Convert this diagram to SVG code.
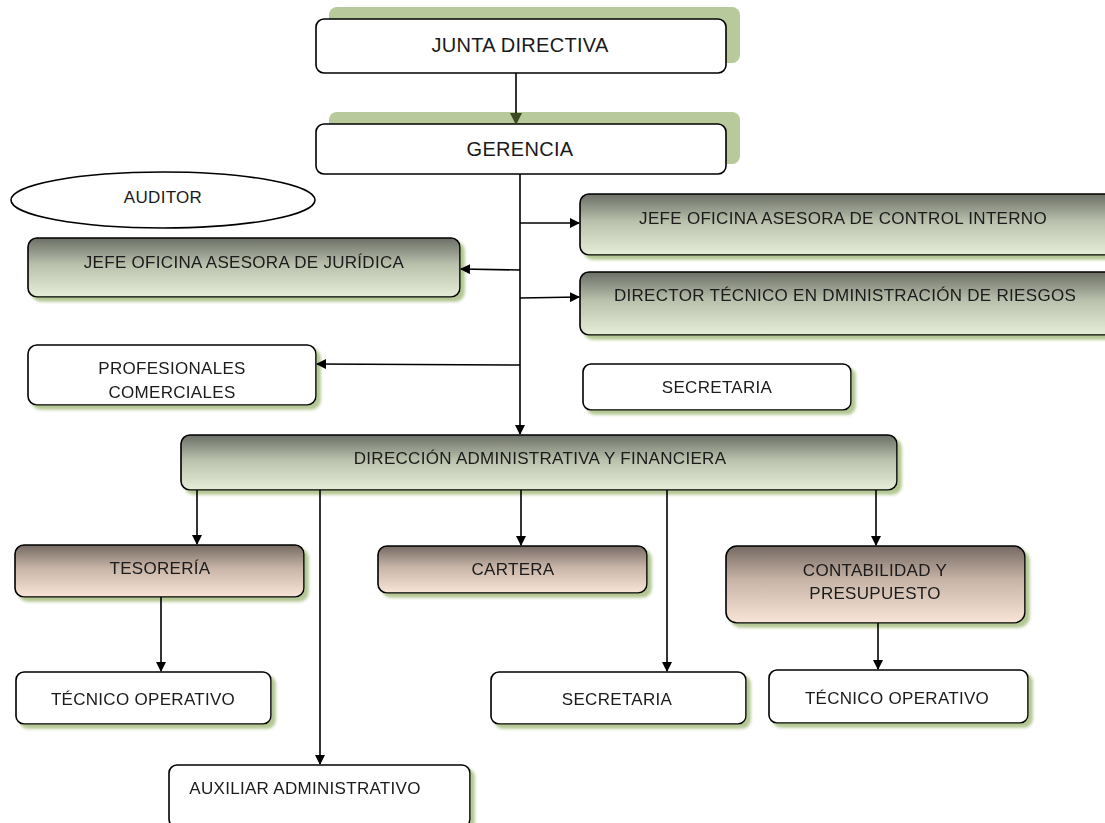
<svg xmlns="http://www.w3.org/2000/svg" width="1105" height="823" viewBox="0 0 1105 823">
<defs>
<linearGradient id="gGreen" x1="0" y1="0" x2="0" y2="1">
<stop offset="0" stop-color="#6b6f66"/>
<stop offset="0.45" stop-color="#b9c0ac"/>
<stop offset="1" stop-color="#e6eed9"/>
</linearGradient>
<linearGradient id="gBrown" x1="0" y1="0" x2="0" y2="1">
<stop offset="0" stop-color="#756a63"/>
<stop offset="0.45" stop-color="#c9b5a8"/>
<stop offset="1" stop-color="#f8e5d8"/>
</linearGradient>
<filter id="sh" x="-5%" y="-20%" width="110%" height="140%">
<feGaussianBlur in="SourceAlpha" stdDeviation="1.5" result="b"/>
<feFlood flood-color="#b3c793"/>
<feComposite in2="b" operator="in"/>
<feOffset dx="4" dy="4" result="s"/>
<feMerge><feMergeNode in="s"/><feMergeNode in="SourceGraphic"/></feMerge>
</filter>
<marker id="ah" markerWidth="10" markerHeight="10" refX="9" refY="5" orient="auto" markerUnits="userSpaceOnUse">
<path d="M0,0 L10,5 L0,10 Z" fill="#000"/>
</marker>
<marker id="ahg" markerWidth="12" markerHeight="12" refX="11" refY="6" orient="auto" markerUnits="userSpaceOnUse">
<path d="M0,0 L12,6 L0,12 Z" fill="#3d4a25"/>
</marker>
<style>
.box{stroke:#000;stroke-width:1.6;}
.w{fill:#fff;}
.gg{fill:url(#gGreen);}
.gb{fill:url(#gBrown);}
.bk{fill:#b8c99c;}
text{font-family:"Liberation Sans",Arial,sans-serif;font-size:17px;letter-spacing:0.3px;fill:#1a1a1a;text-anchor:middle;}
.big{font-size:20px;}
.c line{stroke:#000;stroke-width:1.6;}
</style>
</defs>

<g id="junta">
<rect class="bk" x="329" y="7" width="411" height="56" rx="8"/>
<rect class="box w" x="316" y="19" width="410" height="54" rx="8"/>
<text class="big" x="520" y="52">JUNTA DIRECTIVA</text>
</g>
<g id="gerencia">
<rect class="bk" x="329" y="112" width="411" height="52" rx="8"/>
<rect class="box w" x="316" y="124" width="410" height="50" rx="8"/>
<text class="big" x="520" y="156">GERENCIA</text>
</g>
<g id="auditor">
<ellipse class="box w" cx="163" cy="200" rx="152" ry="28"/>
<text x="163" y="203">AUDITOR</text>
</g>
<g id="control" filter="url(#sh)">
<rect class="box gg" x="580" y="194" width="535" height="61" rx="9"/>
<text x="843" y="224">JEFE OFICINA ASESORA DE CONTROL INTERNO</text>
</g>
<g id="juridica" filter="url(#sh)">
<rect class="box gg" x="28" y="238" width="432" height="59" rx="9"/>
<text x="244" y="268">JEFE OFICINA ASESORA DE JURÍDICA</text>
</g>
<g id="director" filter="url(#sh)">
<rect class="box gg" x="580" y="272" width="535" height="63" rx="9"/>
<text x="845" y="301">DIRECTOR TÉCNICO EN DMINISTRACIÓN DE RIESGOS</text>
</g>
<g id="profesionales" filter="url(#sh)">
<rect class="box w" x="28" y="345" width="288" height="60" rx="9"/>
<text x="172" y="374">PROFESIONALES</text>
<text x="172" y="398">COMERCIALES</text>
</g>
<g id="secretaria1" filter="url(#sh)">
<rect class="box w" x="583" y="364" width="268" height="46" rx="8"/>
<text x="717" y="393">SECRETARIA</text>
</g>
<g id="direccion" filter="url(#sh)">
<rect class="box gg" x="181" y="435" width="716" height="55" rx="9"/>
<text x="540" y="464">DIRECCIÓN ADMINISTRATIVA Y FINANCIERA</text>
</g>
<g id="tesoreria" filter="url(#sh)">
<rect class="box gb" x="15" y="545" width="289" height="52" rx="9"/>
<text x="160" y="574">TESORERÍA</text>
</g>
<g id="cartera" filter="url(#sh)">
<rect class="box gb" x="378" y="546" width="269" height="47" rx="9"/>
<text x="513" y="575">CARTERA</text>
</g>
<g id="contabilidad" filter="url(#sh)">
<rect class="box gb" x="726" y="546" width="299" height="77" rx="11"/>
<text x="875" y="576">CONTABILIDAD Y</text>
<text x="875" y="599">PRESUPUESTO</text>
</g>
<g id="tecnico1" filter="url(#sh)">
<rect class="box w" x="16" y="672" width="255" height="52" rx="8"/>
<text x="143" y="705">TÉCNICO OPERATIVO</text>
</g>
<g id="secretaria2" filter="url(#sh)">
<rect class="box w" x="491" y="672" width="255" height="52" rx="8"/>
<text x="617" y="705">SECRETARIA</text>
</g>
<g id="tecnico2" filter="url(#sh)">
<rect class="box w" x="769" y="670" width="259" height="53" rx="8"/>
<text x="897" y="704">TÉCNICO OPERATIVO</text>
</g>
<g id="auxiliar" filter="url(#sh)">
<rect class="box w" x="169" y="765" width="301" height="62" rx="8"/>
<text x="305" y="794">AUXILIAR ADMINISTRATIVO</text>
</g>

<g id="connectors" class="c">
<line x1="516" y1="73" x2="516" y2="124" marker-end="url(#ahg)"/>
<line x1="520" y1="174" x2="520" y2="434" marker-end="url(#ah)"/>
<line x1="520" y1="223" x2="579" y2="223" marker-end="url(#ah)"/>
<line x1="520" y1="270" x2="461" y2="269" marker-end="url(#ah)"/>
<line x1="520" y1="298" x2="579" y2="297" marker-end="url(#ah)"/>
<line x1="520" y1="365" x2="317" y2="364" marker-end="url(#ah)"/>
<line x1="197" y1="490" x2="197" y2="544" marker-end="url(#ah)"/>
<line x1="320" y1="490" x2="320" y2="764" marker-end="url(#ah)"/>
<line x1="521" y1="490" x2="521" y2="545" marker-end="url(#ah)"/>
<line x1="667" y1="490" x2="667" y2="671" marker-end="url(#ah)"/>
<line x1="876" y1="490" x2="876" y2="545" marker-end="url(#ah)"/>
<line x1="161" y1="597" x2="161" y2="671" marker-end="url(#ah)"/>
<line x1="878" y1="623" x2="878" y2="669" marker-end="url(#ah)"/>
</g>
</svg>
